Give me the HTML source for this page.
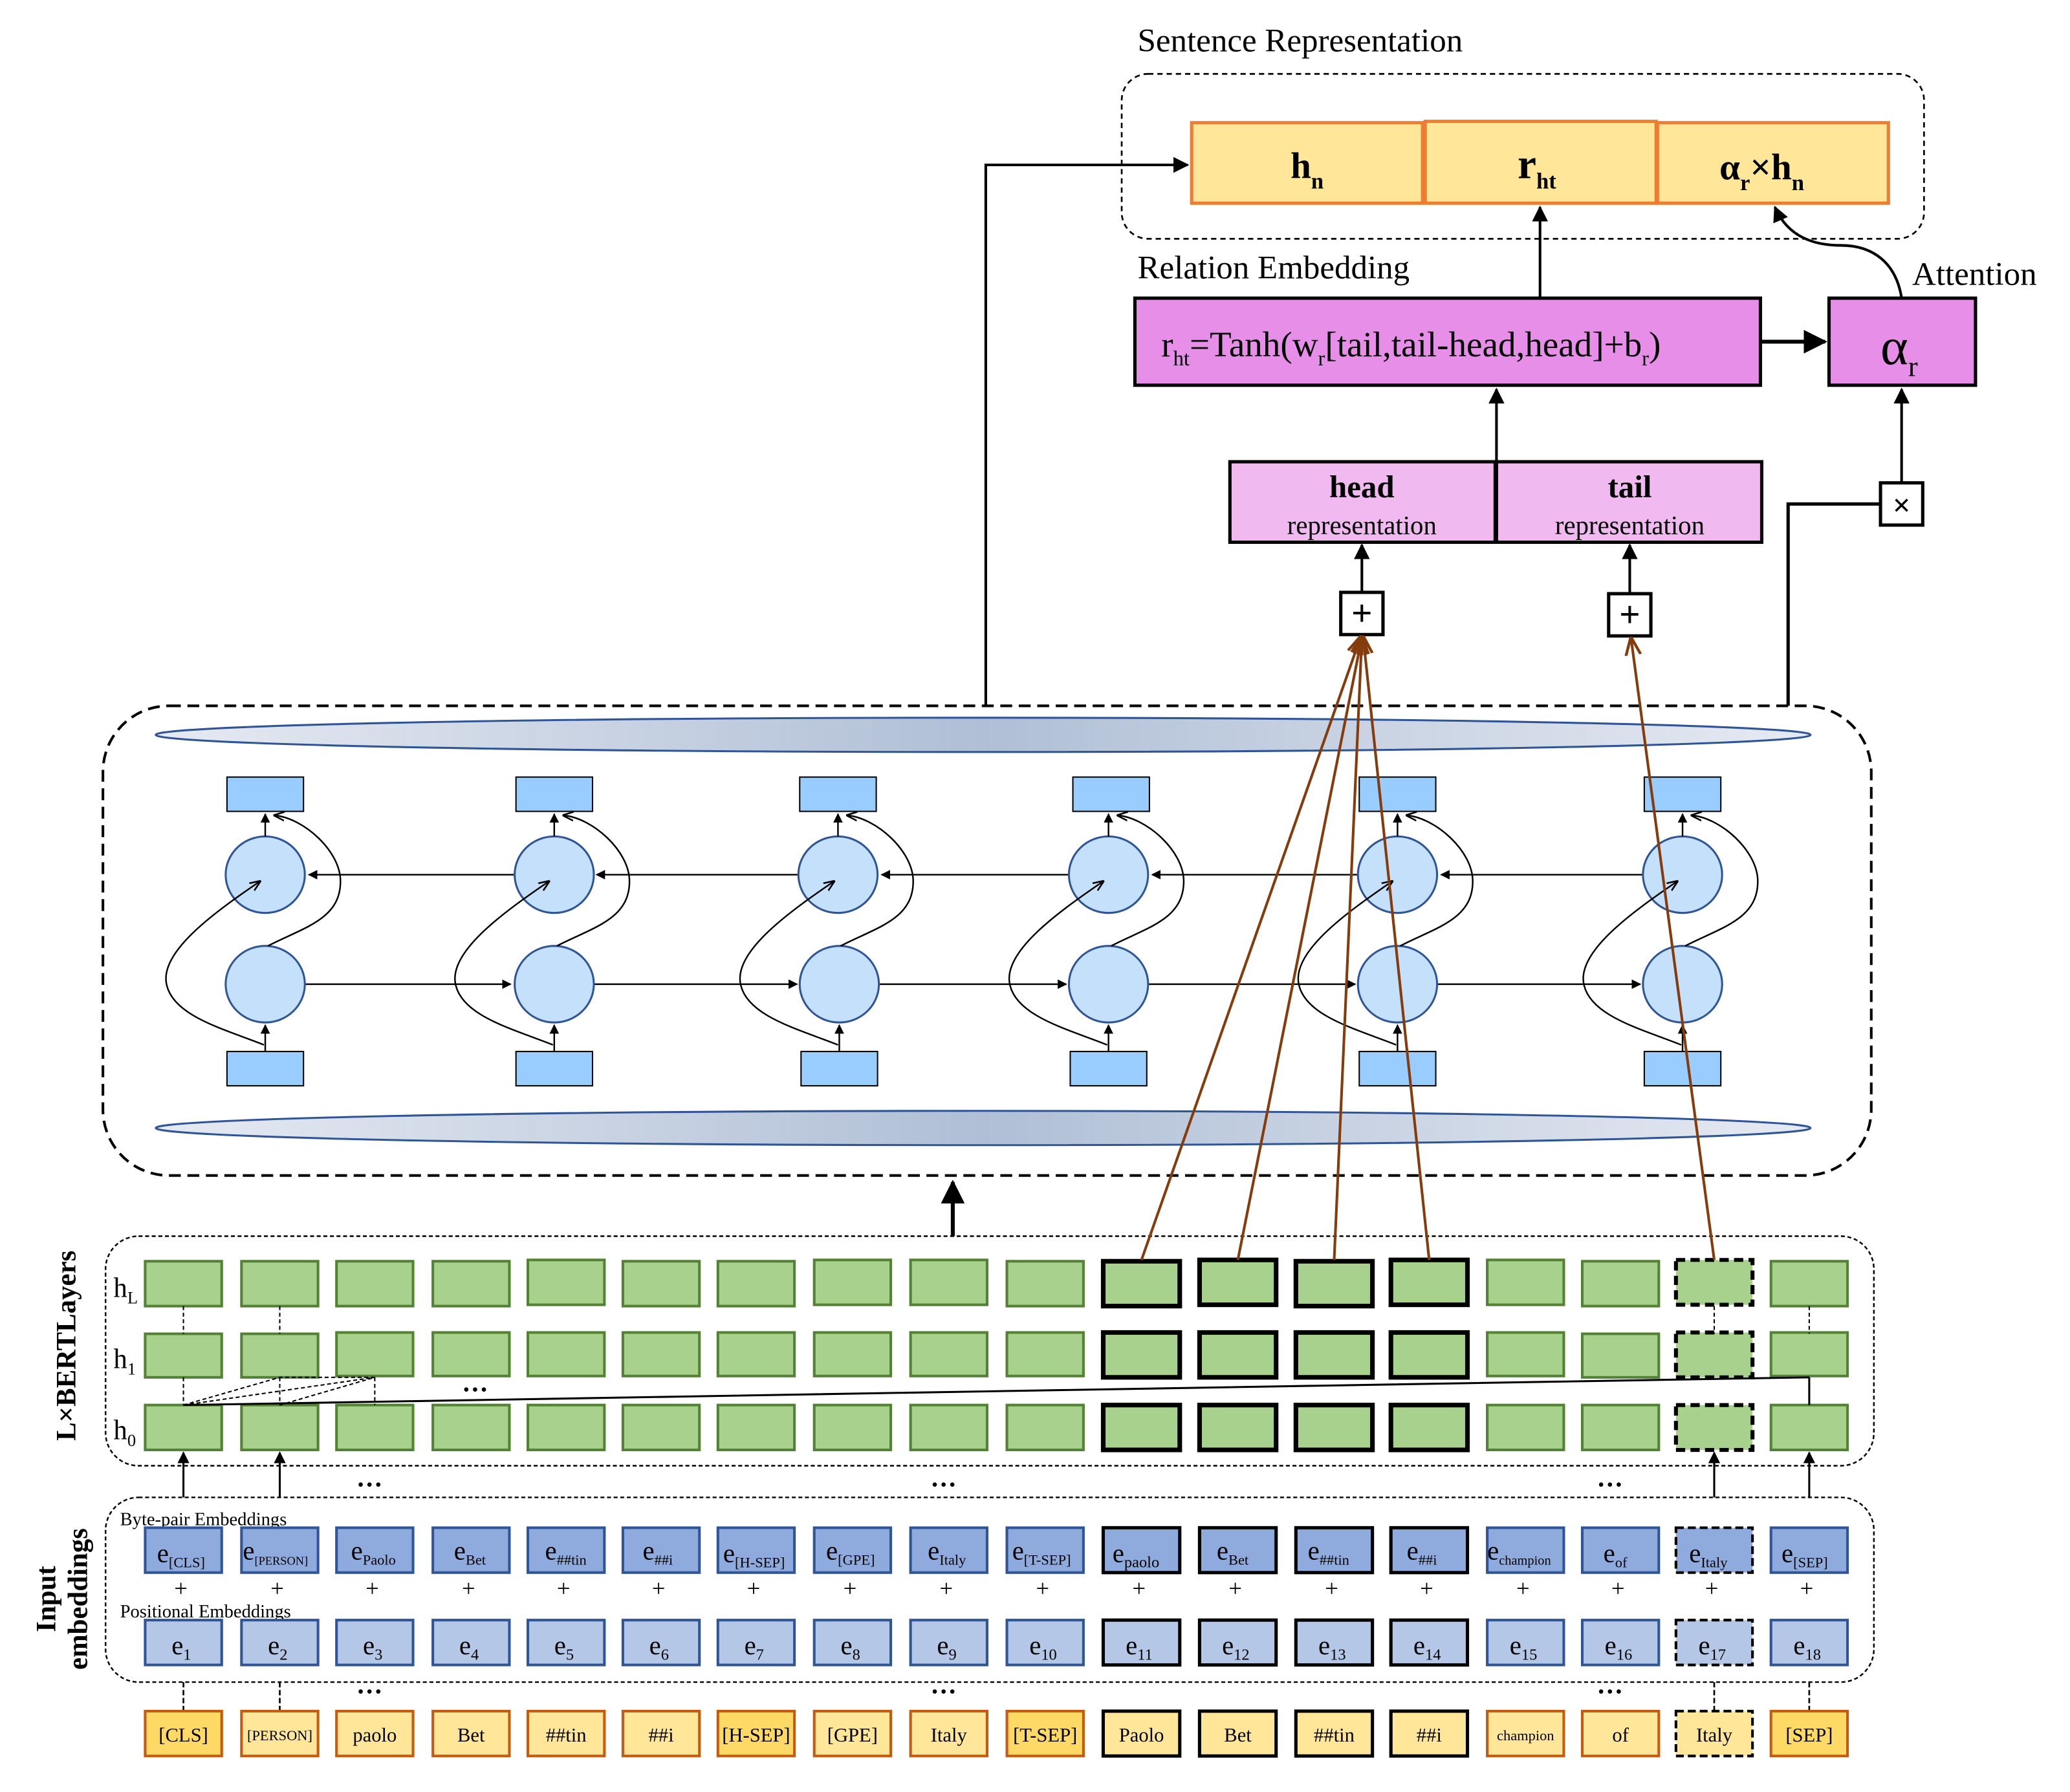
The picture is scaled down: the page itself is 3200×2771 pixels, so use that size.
<!DOCTYPE html>
<html><head><meta charset="utf-8"><style>
html,body{margin:0;padding:0;background:#fff}
svg{display:block}
text{font-family:"Liberation Serif",serif;fill:#000}
.g{fill:#a9d18e;stroke:#548235;stroke-width:2}
.gb{fill:#a9d18e;stroke:#000;stroke-width:3.5}
.gd{fill:#a9d18e;stroke:#000;stroke-width:3;stroke-dasharray:7 4}
.bp{fill:#8faadc;stroke:#2f5597;stroke-width:2}
.bpb{fill:#8faadc;stroke:#000;stroke-width:2.5}
.bpd{fill:#8faadc;stroke:#000;stroke-width:2;stroke-dasharray:6 3}
.po{fill:#b4c7e7;stroke:#2f5597;stroke-width:2}
.pob{fill:#b4c7e7;stroke:#000;stroke-width:2.5}
.pod{fill:#b4c7e7;stroke:#000;stroke-width:2;stroke-dasharray:6 3}
.tk{fill:#ffe699;stroke:#c55a11;stroke-width:2}
.tk2{fill:#ffd966;stroke:#c55a11;stroke-width:2}
.tkb{fill:#ffe699;stroke:#000;stroke-width:2.5}
.tkd{fill:#ffe699;stroke:#000;stroke-width:2;stroke-dasharray:6 3}
.c{fill:#c5e0fb;stroke:#2f5597;stroke-width:1.5}
.r{fill:#99ccff;stroke:#000;stroke-width:1}
.ln{stroke:#000;stroke-width:1.2;fill:none}
.br{stroke:#843c0c;stroke-width:2;fill:none}
</style></head><body>
<svg width="3200" height="2771" viewBox="0 0 1568.6 1358.3" preserveAspectRatio="none" xmlns="http://www.w3.org/2000/svg">
<defs>
<marker id="a" viewBox="0 0 10 10" refX="9" refY="5" markerWidth="6" markerHeight="6" orient="auto"><path d="M0,0L10,5L0,10z" fill="#000"/></marker>
<marker id="ab" viewBox="0 0 10 10" refX="9" refY="5" markerWidth="7" markerHeight="7" orient="auto"><path d="M0,1L10,5L0,9" fill="none" stroke="#843c0c" stroke-width="1.5"/></marker>
<marker id="ao" viewBox="0 0 10 10" refX="9" refY="5" markerWidth="7" markerHeight="7" orient="auto"><path d="M0,1L10,5L0,9" fill="none" stroke="#000" stroke-width="1.5"/></marker>
<linearGradient id="el" x1="0" x2="1"><stop offset="0" stop-color="#e6eaf2"/><stop offset="0.5" stop-color="#b0bfd6"/><stop offset="1" stop-color="#e6eaf2"/></linearGradient>
</defs>

<text x="862" y="39" font-size="25">Sentence Representation</text>
<rect x="850" y="56" width="608" height="125" rx="20" fill="none" stroke="#000" stroke-width="1.3" stroke-dasharray="4 3"/>
<rect x="903" y="93" width="175" height="61" fill="#ffe699" stroke="#ed7d31" stroke-width="2.5"/>
<rect x="1080" y="92" width="175" height="62" fill="#ffe699" stroke="#ed7d31" stroke-width="2.5"/>
<rect x="1256" y="93" width="175" height="61" fill="#ffe699" stroke="#ed7d31" stroke-width="2.5"/>
<text x="978" y="135" font-size="28" font-weight="bold">h<tspan font-size="17" dy="8">n</tspan></text>
<text x="1150" y="135" font-size="32" font-weight="bold">r<tspan font-size="17" dy="8">ht</tspan></text>
<text x="1303" y="136" font-size="28" font-weight="bold">α<tspan font-size="17" dy="8">r</tspan><tspan dy="-8">×h</tspan><tspan font-size="17" dy="8">n</tspan></text>

<text x="862" y="211" font-size="25">Relation Embedding</text>
<text x="1449" y="216" font-size="25">Attention</text>
<rect x="860" y="226" width="474" height="66" fill="#e78fe8" stroke="#000" stroke-width="2.5"/>
<text x="880" y="270" font-size="27">r<tspan font-size="16" dy="7">ht</tspan><tspan dy="-7">=Tanh(w</tspan><tspan font-size="16" dy="7">r</tspan><tspan dy="-7">[tail,tail-head,head]+b</tspan><tspan font-size="16" dy="7">r</tspan><tspan dy="-7">)</tspan></text>
<rect x="1386" y="226" width="111" height="66" fill="#e78fe8" stroke="#000" stroke-width="2.5"/>
<text x="1425" y="276" font-size="40">α<tspan font-size="22" dy="9">r</tspan></text>

<rect x="932" y="350" width="201" height="61" fill="#f0b9f0" stroke="#000" stroke-width="2.5"/>
<rect x="1134" y="350" width="201" height="61" fill="#f0b9f0" stroke="#000" stroke-width="2.5"/>
<text x="1032" y="377" font-size="24" font-weight="bold" text-anchor="middle">head</text>
<text x="1032" y="405" font-size="20" text-anchor="middle">representation</text>
<text x="1235" y="377" font-size="24" font-weight="bold" text-anchor="middle">tail</text>
<text x="1235" y="405" font-size="20" text-anchor="middle">representation</text>

<rect x="1016" y="449" width="32" height="32" fill="#fff" stroke="#000" stroke-width="2.5"/>
<text x="1032" y="474" font-size="28" font-weight="bold" text-anchor="middle">+</text>
<rect x="1219" y="450" width="32" height="32" fill="#fff" stroke="#000" stroke-width="2.5"/>
<text x="1235" y="475" font-size="28" font-weight="bold" text-anchor="middle">+</text>
<rect x="1425" y="366" width="32" height="32" fill="#fff" stroke="#000" stroke-width="2.5"/>
<text x="1441" y="391" font-size="24" font-weight="bold" text-anchor="middle">×</text>

<g stroke="#000" stroke-width="2" fill="none">
<path d="M747,535V125H900" marker-end="url(#a)"/>
<path d="M1167,226V157" marker-end="url(#a)"/>
<path d="M1334,259H1383" marker-end="url(#a)" stroke-width="3"/>
<path d="M1441,366V295" marker-end="url(#a)"/>
<path d="M1355,535V382H1425" stroke-width="2.5"/>
<path d="M1134,350V295" marker-end="url(#a)"/>
<path d="M1032,449V413" marker-end="url(#a)"/>
<path d="M1235,450V413" marker-end="url(#a)"/>
<path d="M1441,226C1437,200 1420,186 1395,186C1375,186 1355,180 1345,157" marker-end="url(#a)"/>
<path d="M722,937V896" marker-end="url(#a)" stroke-width="3"/>
</g>

<rect x="78" y="535" width="1340" height="356" rx="50" fill="none" stroke="#000" stroke-width="2" stroke-dasharray="9 5"/>
<ellipse cx="745" cy="557" rx="627" ry="13" fill="url(#el)" stroke="#2f5597" stroke-width="1.5"/>
<ellipse cx="745" cy="855" rx="627" ry="13" fill="url(#el)" stroke="#2f5597" stroke-width="1.5"/>

<g class="ln" stroke-width="1.3">
<path d="M420,663H234" marker-end="url(#a)"/>
<path d="M640,663H452" marker-end="url(#a)"/>
<path d="M840,663H668" marker-end="url(#a)"/>
<path d="M1059,663H873" marker-end="url(#a)"/>
<path d="M1275,663H1092" marker-end="url(#a)"/>
<path d="M420,746H604" marker-end="url(#a)"/>
<path d="M635,746H808" marker-end="url(#a)"/>
<path d="M840,746H1027" marker-end="url(#a)"/>
<path d="M1059,746H1243" marker-end="url(#a)"/>
<path d="M231,746H387" marker-end="url(#a)"/>
</g>

<g>
<rect class="r" x="172" y="589" width="58" height="26"/><rect class="r" x="172" y="797" width="58" height="26"/>
<ellipse class="c" cx="201" cy="663" rx="30" ry="29"/><ellipse class="c" cx="201" cy="746" rx="30" ry="29"/>
<path class="ln" d="M201,797V777" marker-end="url(#a)"/><path class="ln" d="M201,634V617" marker-end="url(#a)"/>
<path class="ln" d="M200,792C170,780 130,770 126,745C122,720 165,690 197,668" marker-end="url(#ao)"/>
<path class="ln" d="M203,717C230,703 258,697 258,668C258,645 230,620 208,618" marker-end="url(#ao)"/>

<rect class="r" x="391" y="589" width="58" height="26"/><rect class="r" x="391" y="797" width="58" height="26"/>
<ellipse class="c" cx="420" cy="663" rx="30" ry="29"/><ellipse class="c" cx="420" cy="746" rx="30" ry="29"/>
<path class="ln" d="M420,797V777" marker-end="url(#a)"/><path class="ln" d="M420,634V617" marker-end="url(#a)"/>
<path class="ln" d="M419,792C389,780 349,770 345,745C341,720 384,690 416,668" marker-end="url(#ao)"/>
<path class="ln" d="M422,717C449,703 477,697 477,668C477,645 449,620 427,618" marker-end="url(#ao)"/>

<rect class="r" x="606" y="589" width="58" height="26"/><rect class="r" x="607" y="797" width="58" height="26"/>
<ellipse class="c" cx="635" cy="663" rx="30" ry="29"/><ellipse class="c" cx="636" cy="746" rx="30" ry="29"/>
<path class="ln" d="M636,797V777" marker-end="url(#a)"/><path class="ln" d="M635,634V617" marker-end="url(#a)"/>
<path class="ln" d="M635,792C605,780 565,770 561,745C557,720 600,690 632,668" marker-end="url(#ao)"/>
<path class="ln" d="M637,717C664,703 692,697 692,668C692,645 664,620 642,618" marker-end="url(#ao)"/>

<rect class="r" x="813" y="589" width="58" height="26"/><rect class="r" x="811" y="797" width="58" height="26"/>
<ellipse class="c" cx="840" cy="663" rx="30" ry="29"/><ellipse class="c" cx="840" cy="746" rx="30" ry="29"/>
<path class="ln" d="M840,797V777" marker-end="url(#a)"/><path class="ln" d="M840,634V617" marker-end="url(#a)"/>
<path class="ln" d="M839,792C809,780 769,770 765,745C761,720 804,690 836,668" marker-end="url(#ao)"/>
<path class="ln" d="M842,717C869,703 897,697 897,668C897,645 869,620 847,618" marker-end="url(#ao)"/>

<rect class="r" x="1030" y="589" width="58" height="26"/><rect class="r" x="1030" y="797" width="58" height="26"/>
<ellipse class="c" cx="1059" cy="663" rx="30" ry="29"/><ellipse class="c" cx="1059" cy="746" rx="30" ry="29"/>
<path class="ln" d="M1059,797V777" marker-end="url(#a)"/><path class="ln" d="M1059,634V617" marker-end="url(#a)"/>
<path class="ln" d="M1058,792C1028,780 988,770 984,745C980,720 1023,690 1055,668" marker-end="url(#ao)"/>
<path class="ln" d="M1061,717C1088,703 1116,697 1116,668C1116,645 1088,620 1066,618" marker-end="url(#ao)"/>

<rect class="r" x="1246" y="589" width="58" height="26"/><rect class="r" x="1246" y="797" width="58" height="26"/>
<ellipse class="c" cx="1275" cy="663" rx="30" ry="29"/><ellipse class="c" cx="1275" cy="746" rx="30" ry="29"/>
<path class="ln" d="M1275,797V777" marker-end="url(#a)"/><path class="ln" d="M1275,634V617" marker-end="url(#a)"/>
<path class="ln" d="M1274,792C1244,780 1204,770 1200,745C1196,720 1239,690 1271,668" marker-end="url(#ao)"/>
<path class="ln" d="M1277,717C1304,703 1332,697 1332,668C1332,645 1304,620 1282,618" marker-end="url(#ao)"/>
</g>

<rect x="80" y="937" width="1340" height="174" rx="25" fill="none" stroke="#000" stroke-width="1.2" stroke-dasharray="3 2"/>
<text transform="translate(57,1020) rotate(-90)" font-size="21" font-weight="bold" text-anchor="middle">L×BERTLayers</text>
<text x="86" y="983" font-size="21">h<tspan font-size="13" dy="5">L</tspan></text>
<text x="86" y="1037" font-size="21">h<tspan font-size="13" dy="5">1</tspan></text>
<text x="86" y="1091" font-size="21">h<tspan font-size="13" dy="5">0</tspan></text>

<g>
<rect class="g" x="110" y="956" width="58" height="34"/><rect class="g" x="183" y="956" width="58" height="34"/><rect class="g" x="255" y="956" width="58" height="34"/><rect class="g" x="328" y="956" width="58" height="34"/><rect class="g" x="400" y="955" width="58" height="34"/><rect class="g" x="472" y="956" width="58" height="34"/><rect class="g" x="544" y="956" width="58" height="34"/><rect class="g" x="617" y="955" width="58" height="34"/><rect class="g" x="690" y="955" width="58" height="34"/><rect class="g" x="763" y="956" width="58" height="34"/>
<rect class="gb" x="836" y="956" width="58" height="34"/><rect class="gb" x="909" y="955" width="58" height="34"/><rect class="gb" x="982" y="956" width="58" height="34"/><rect class="gb" x="1054" y="955" width="58" height="34"/>
<rect class="g" x="1127" y="955" width="58" height="34"/><rect class="g" x="1199" y="956" width="58" height="34"/><rect class="gd" x="1270" y="955" width="58" height="34"/><rect class="g" x="1342" y="956" width="58" height="34"/>
<rect class="g" x="110" y="1011" width="58" height="33"/><rect class="g" x="183" y="1011" width="58" height="33"/><rect class="g" x="255" y="1010" width="58" height="33"/><rect class="g" x="328" y="1010" width="58" height="33"/><rect class="g" x="400" y="1010" width="58" height="33"/><rect class="g" x="472" y="1010" width="58" height="33"/><rect class="g" x="544" y="1010" width="58" height="33"/><rect class="g" x="617" y="1010" width="58" height="33"/><rect class="g" x="690" y="1010" width="58" height="33"/><rect class="g" x="763" y="1010" width="58" height="33"/>
<rect class="gb" x="836" y="1010" width="58" height="34"/><rect class="gb" x="909" y="1010" width="58" height="34"/><rect class="gb" x="982" y="1010" width="58" height="34"/><rect class="gb" x="1054" y="1010" width="58" height="34"/>
<rect class="g" x="1127" y="1010" width="58" height="33"/><rect class="g" x="1199" y="1011" width="58" height="33"/><rect class="gd" x="1270" y="1010" width="58" height="34"/><rect class="g" x="1342" y="1010" width="58" height="33"/>
<rect class="g" x="110" y="1065" width="58" height="34"/><rect class="g" x="183" y="1065" width="58" height="34"/><rect class="g" x="255" y="1065" width="58" height="34"/><rect class="g" x="328" y="1065" width="58" height="34"/><rect class="g" x="400" y="1065" width="58" height="34"/><rect class="g" x="472" y="1065" width="58" height="34"/><rect class="g" x="544" y="1065" width="58" height="34"/><rect class="g" x="617" y="1065" width="58" height="34"/><rect class="g" x="690" y="1065" width="58" height="34"/><rect class="g" x="763" y="1065" width="58" height="34"/>
<rect class="gb" x="836" y="1065" width="58" height="34"/><rect class="gb" x="909" y="1065" width="58" height="34"/><rect class="gb" x="982" y="1065" width="58" height="34"/><rect class="gb" x="1054" y="1065" width="58" height="34"/>
<rect class="g" x="1127" y="1065" width="58" height="34"/><rect class="g" x="1199" y="1065" width="58" height="34"/><rect class="gd" x="1270" y="1065" width="58" height="34"/><rect class="g" x="1342" y="1065" width="58" height="34"/>
</g>
<g stroke="#000" stroke-width="1" fill="none" stroke-dasharray="3 2">
<path d="M139,990V1011M212,990V1011M139,1044V1065M212,1044V1065M284,1044V1065M1299,990V1011M1371,990V1011"/>
<path d="M139,1065L212,1044L284,1044L212,1065M139,1065L284,1044"/>
</g>
<path d="M139,1065L1371,1044M1371,1044V1065" stroke="#000" stroke-width="1.5"/>
<text x="350" y="1060" font-size="20" font-weight="bold">···</text>

<g class="br">
<path d="M865,955L1031,483" marker-end="url(#ab)"/>
<path d="M938,955L1032,483" marker-end="url(#ab)"/>
<path d="M1011,955L1032,483" marker-end="url(#ab)"/>
<path d="M1083,955L1033,483" marker-end="url(#ab)"/>
<path d="M1299,955L1236,484" marker-end="url(#ab)"/>
</g>

<g stroke="#000" stroke-width="1.5" fill="none">
<path d="M139,1135V1101" marker-end="url(#a)"/><path d="M212,1135V1101" marker-end="url(#a)"/>
<path d="M1299,1135V1101" marker-end="url(#a)"/><path d="M1371,1135V1101" marker-end="url(#a)"/>
</g>
<text x="270" y="1132" font-size="20" font-weight="bold">···</text><text x="705" y="1132" font-size="20" font-weight="bold">···</text><text x="1210" y="1132" font-size="20" font-weight="bold">···</text>

<rect x="80" y="1135" width="1340" height="140" rx="25" fill="none" stroke="#000" stroke-width="1.2" stroke-dasharray="3 2"/>
<text transform="translate(42,1212) rotate(-90)" font-size="21" font-weight="bold" text-anchor="middle">Input</text>
<text transform="translate(66,1212) rotate(-90)" font-size="21" font-weight="bold" text-anchor="middle">embeddings</text>
<text x="91" y="1156" font-size="14">Byte-pair Embeddings</text>
<text x="91" y="1226" font-size="14">Positional Embeddings</text>

<g>
<rect class="bp" x="110" y="1158" width="58" height="34"/><rect class="bp" x="183" y="1158" width="58" height="34"/><rect class="bp" x="255" y="1158" width="58" height="34"/><rect class="bp" x="328" y="1158" width="58" height="34"/><rect class="bp" x="400" y="1158" width="58" height="34"/><rect class="bp" x="472" y="1158" width="58" height="34"/><rect class="bp" x="544" y="1158" width="58" height="34"/><rect class="bp" x="617" y="1158" width="58" height="34"/><rect class="bp" x="690" y="1158" width="58" height="34"/><rect class="bp" x="763" y="1158" width="58" height="34"/>
<rect class="bpb" x="836" y="1158" width="58" height="34"/><rect class="bpb" x="909" y="1158" width="58" height="34"/><rect class="bpb" x="982" y="1158" width="58" height="34"/><rect class="bpb" x="1054" y="1158" width="58" height="34"/>
<rect class="bp" x="1127" y="1158" width="58" height="34"/><rect class="bp" x="1199" y="1158" width="58" height="34"/><rect class="bpd" x="1270" y="1158" width="58" height="34"/><rect class="bp" x="1342" y="1158" width="58" height="34"/>
</g>
<g font-size="20">
<text x="119" y="1184">e<tspan font-size="11" dy="4">[CLS]</tspan></text>
<text x="184" y="1182">e<tspan font-size="9" dy="4">[PERSON]</tspan></text>
<text x="266" y="1182">e<tspan font-size="11" dy="4">Paolo</tspan></text>
<text x="344" y="1182">e<tspan font-size="11" dy="4">Bet</tspan></text>
<text x="413" y="1182">e<tspan font-size="11" dy="4">##tin</tspan></text>
<text x="487" y="1182">e<tspan font-size="11" dy="4">##i</tspan></text>
<text x="548" y="1184">e<tspan font-size="11" dy="4">[H-SEP]</tspan></text>
<text x="626" y="1182">e<tspan font-size="11" dy="4">[GPE]</tspan></text>
<text x="703" y="1182">e<tspan font-size="11" dy="4">Italy</tspan></text>
<text x="767" y="1182">e<tspan font-size="11" dy="4">[T-SEP]</tspan></text>
<text x="843" y="1184">e<tspan font-size="12" dy="4">paolo</tspan></text>
<text x="922" y="1182">e<tspan font-size="11" dy="4">Bet</tspan></text>
<text x="991" y="1182">e<tspan font-size="11" dy="4">##tin</tspan></text>
<text x="1066" y="1182">e<tspan font-size="11" dy="4">##i</tspan></text>
<text x="1127" y="1182">e<tspan font-size="10" dy="4">champion</tspan></text>
<text x="1215" y="1184">e<tspan font-size="11" dy="4">of</tspan></text>
<text x="1280" y="1184">e<tspan font-size="11" dy="4">Italy</tspan></text>
<text x="1350" y="1184">e<tspan font-size="11" dy="4">[SEP]</tspan></text>
</g>
<g font-size="18">
<text x="132" y="1210">+</text><text x="205" y="1210">+</text><text x="277" y="1210">+</text><text x="350" y="1210">+</text><text x="422" y="1210">+</text><text x="494" y="1210">+</text><text x="566" y="1210">+</text><text x="639" y="1210">+</text><text x="712" y="1210">+</text><text x="785" y="1210">+</text><text x="858" y="1210">+</text><text x="931" y="1210">+</text><text x="1004" y="1210">+</text><text x="1076" y="1210">+</text><text x="1149" y="1210">+</text><text x="1221" y="1210">+</text><text x="1292" y="1210">+</text><text x="1364" y="1210">+</text>
</g>
<g>
<rect class="po" x="110" y="1228" width="58" height="34"/><rect class="po" x="183" y="1228" width="58" height="34"/><rect class="po" x="255" y="1228" width="58" height="34"/><rect class="po" x="328" y="1228" width="58" height="34"/><rect class="po" x="400" y="1228" width="58" height="34"/><rect class="po" x="472" y="1228" width="58" height="34"/><rect class="po" x="544" y="1228" width="58" height="34"/><rect class="po" x="617" y="1228" width="58" height="34"/><rect class="po" x="690" y="1228" width="58" height="34"/><rect class="po" x="763" y="1228" width="58" height="34"/>
<rect class="pob" x="836" y="1228" width="58" height="34"/><rect class="pob" x="909" y="1228" width="58" height="34"/><rect class="pob" x="982" y="1228" width="58" height="34"/><rect class="pob" x="1054" y="1228" width="58" height="34"/>
<rect class="po" x="1127" y="1228" width="58" height="34"/><rect class="po" x="1199" y="1228" width="58" height="34"/><rect class="pod" x="1270" y="1228" width="58" height="34"/><rect class="po" x="1342" y="1228" width="58" height="34"/>
</g>
<g font-size="20">
<text x="130" y="1254">e<tspan font-size="12" dy="4">1</tspan></text><text x="203" y="1254">e<tspan font-size="12" dy="4">2</tspan></text><text x="275" y="1254">e<tspan font-size="12" dy="4">3</tspan></text><text x="348" y="1254">e<tspan font-size="12" dy="4">4</tspan></text><text x="420" y="1254">e<tspan font-size="12" dy="4">5</tspan></text><text x="492" y="1254">e<tspan font-size="12" dy="4">6</tspan></text><text x="564" y="1254">e<tspan font-size="12" dy="4">7</tspan></text><text x="637" y="1254">e<tspan font-size="12" dy="4">8</tspan></text><text x="710" y="1254">e<tspan font-size="12" dy="4">9</tspan></text><text x="780" y="1254">e<tspan font-size="12" dy="4">10</tspan></text><text x="853" y="1254">e<tspan font-size="12" dy="4">11</tspan></text><text x="926" y="1254">e<tspan font-size="12" dy="4">12</tspan></text><text x="999" y="1254">e<tspan font-size="12" dy="4">13</tspan></text><text x="1071" y="1254">e<tspan font-size="12" dy="4">14</tspan></text><text x="1144" y="1254">e<tspan font-size="12" dy="4">15</tspan></text><text x="1216" y="1254">e<tspan font-size="12" dy="4">16</tspan></text><text x="1287" y="1254">e<tspan font-size="12" dy="4">17</tspan></text><text x="1359" y="1254">e<tspan font-size="12" dy="4">18</tspan></text>
</g>

<g stroke="#000" stroke-width="1.3" stroke-dasharray="4 2" fill="none">
<path d="M139,1275V1297M212,1275V1297M1299,1275V1297M1371,1275V1297"/>
</g>
<text x="270" y="1289" font-size="20" font-weight="bold">···</text><text x="705" y="1289" font-size="20" font-weight="bold">···</text><text x="1210" y="1289" font-size="20" font-weight="bold">···</text>

<g>
<rect class="tk2" x="110" y="1297" width="58" height="34"/><rect class="tk" x="183" y="1297" width="58" height="34"/><rect class="tk" x="255" y="1297" width="58" height="34"/><rect class="tk" x="328" y="1297" width="58" height="34"/><rect class="tk" x="400" y="1297" width="58" height="34"/><rect class="tk" x="472" y="1297" width="58" height="34"/><rect class="tk2" x="544" y="1297" width="58" height="34"/><rect class="tk" x="617" y="1297" width="58" height="34"/><rect class="tk" x="690" y="1297" width="58" height="34"/><rect class="tk2" x="763" y="1297" width="58" height="34"/>
<rect class="tkb" x="836" y="1297" width="58" height="34"/><rect class="tkb" x="909" y="1297" width="58" height="34"/><rect class="tkb" x="982" y="1297" width="58" height="34"/><rect class="tkb" x="1054" y="1297" width="58" height="34"/>
<rect class="tk" x="1127" y="1297" width="58" height="34"/><rect class="tk" x="1199" y="1297" width="58" height="34"/><rect class="tkd" x="1270" y="1297" width="58" height="34"/><rect class="tk2" x="1342" y="1297" width="58" height="34"/>
</g>
<g font-size="15" text-anchor="middle">
<text x="139" y="1320">[CLS]</text><text x="212" y="1319" font-size="11">[PERSON]</text><text x="284" y="1320">paolo</text><text x="357" y="1320">Bet</text><text x="429" y="1320">##tin</text><text x="501" y="1320">##i</text><text x="573" y="1320">[H-SEP]</text><text x="646" y="1320">[GPE]</text><text x="719" y="1320">Italy</text><text x="792" y="1320">[T-SEP]</text><text x="865" y="1320">Paolo</text><text x="938" y="1320">Bet</text><text x="1011" y="1320">##tin</text><text x="1083" y="1320">##i</text><text x="1156" y="1319" font-size="11">champion</text><text x="1228" y="1320">of</text><text x="1299" y="1320">Italy</text><text x="1371" y="1320">[SEP]</text>
</g>
</svg>
</body></html>
